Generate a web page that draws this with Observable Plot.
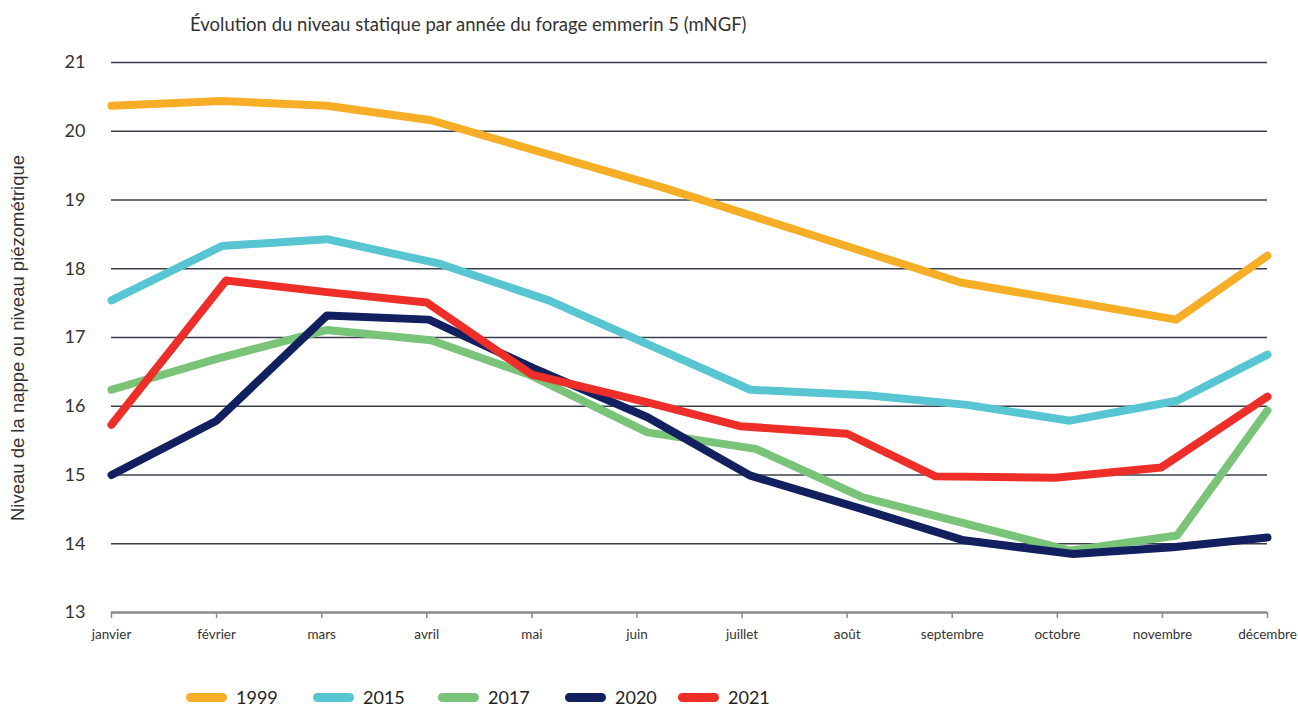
<!DOCTYPE html>
<html>
<head>
<meta charset="utf-8">
<script src="https://cdn.jsdelivr.net/npm/d3@7"></script>
<script src="https://cdn.jsdelivr.net/npm/@observablehq/plot@0.6"></script>
<style>
  html, body { margin: 0; padding: 0; background: #fff; overflow: hidden; }
  #title { height: 44px; box-sizing: border-box; padding: 13px 0 0 190px; font: 18.5px Lato, "Open Sans", sans-serif; color: #333; }
  #chart { position: relative; }
  #ytitle { position: absolute; left: 18px; top: 283px; transform: translate(-50%, 0) rotate(-90deg); transform-origin: center; white-space: nowrap; font: 18.5px "Liberation Sans", Arial, sans-serif; color: #333; }
  #legend { position: relative; height: 24px; margin-top: 7px; font: 18px Lato, sans-serif; color: #222; }
  #legend .item { position: absolute; top: 0; height: 24px; display: flex; align-items: center; }
  #legend .sw { width: 41px; height: 9px; border-radius: 5px; margin-right: 9px; }
</style>
</head>
<body>
<div id="title">Évolution du niveau statique par année du forage emmerin 5 (mNGF)</div>
<div id="chart"><div id="ytitle">Niveau de la nappe ou niveau piézométrique</div></div>
<div id="legend"></div>
<script>
// Month tick labels
const months = ["janvier","février","mars","avril","mai","juin","juillet","août","septembre","octobre","novembre","décembre"];
const yTicks = [13,14,15,16,17,18,19,20,21];
const years = ["1999","2015","2017","2020","2021"];
const colors = ["#F7AE27","#57C5D2","#79C479","#13205F","#EE2E28"];

// Measurement positions (fractional month index, 0 = janvier) and levels (mNGF)
const x1999 = [0, 1.05, 2.05, 3.04, 5.25, 8.08, 10.13, 11];
const v1999 = [20.37, 20.44, 20.37, 20.16, 19.18, 17.80, 17.26, 18.19];

const x2015 = [0, 1.05, 2.05, 3.13, 4.16, 6.08, 7.19, 8.14, 9.12, 10.14, 11];
const v2015 = [17.54, 18.33, 18.43, 18.07, 17.54, 16.24, 16.16, 16.02, 15.79, 16.08, 16.75];

const x2017 = [0, 1.0, 2.05, 3.04, 3.99, 5.10, 6.13, 7.14, 8.08, 9.12, 10.14, 11];
const v2017 = [16.24, 16.69, 17.11, 16.96, 16.45, 15.62, 15.38, 14.68, 14.31, 13.90, 14.12, 15.94];

const x2020 = [0, 1.0, 2.05, 3.02, 4.02, 5.10, 6.08, 7.13, 8.11, 9.15, 10.1, 11];
const v2020 = [15.00, 15.79, 17.32, 17.26, 16.55, 15.84, 14.99, 14.51, 14.05, 13.85, 13.95, 14.09];

const x2021 = [0, 1.09, 2.05, 3.0, 4.0, 5.09, 5.98, 7.0, 7.84, 8.98, 9.99, 11];
const v2021 = [15.73, 17.83, 17.66, 17.51, 16.46, 16.06, 15.71, 15.60, 14.98, 14.96, 15.11, 16.14];

const seriesX = [x1999, x2015, x2017, x2020, x2021];
const seriesV = [v1999, v2015, v2017, v2020, v2021];

const data = [];
years.forEach((yr, i) => {
  seriesX[i].forEach((m, j) => data.push({year: yr, m, v: seriesV[i][j]}));
});

const chart = Plot.plot({
  width: 1298,
  height: 634,
  marginLeft: 111,
  marginRight: 31,
  marginTop: 18,
  marginBottom: 66,
  style: {fontFamily: "Lato, sans-serif", color: "#333", background: "#fff"},
  x: {domain: [0, 11], label: null},
  y: {domain: [13, 21], label: null},
  color: {domain: years, range: colors},
  marks: [
    Plot.ruleY(yTicks.filter(d => d > 13), {stroke: "#3a3f4a", strokeWidth: 1.3}),
    Plot.ruleY([13], {stroke: "#8a8a8a", strokeWidth: 2.5}),
    Plot.axisY({ticks: yTicks, tickSize: 0, tickPadding: 26, fontSize: 18, label: null, fill: "#333"}),
    Plot.axisX({ticks: d3.range(12), tickFormat: i => months[i], tickSize: 6, tickPadding: 11, fontSize: 13.5, stroke: "#8a8a8a", strokeWidth: 1.5, label: null, fill: "#333"}),
    Plot.line(data, {x: "m", y: "v", z: "year", stroke: "year", strokeWidth: 8, strokeLinecap: "round", strokeLinejoin: "round"})
  ]
});
document.getElementById("chart").appendChild(chart);

const legendLeft = [186, 313, 438, 565, 678];
const legend = document.getElementById("legend");
years.forEach((yr, i) => {
  const it = document.createElement("div");
  it.className = "item";
  it.style.left = legendLeft[i] + "px";
  const sw = document.createElement("div");
  sw.className = "sw";
  sw.style.background = colors[i];
  const t = document.createElement("span");
  t.textContent = yr;
  it.appendChild(sw); it.appendChild(t);
  legend.appendChild(it);
});
</script>
</body>
</html>
